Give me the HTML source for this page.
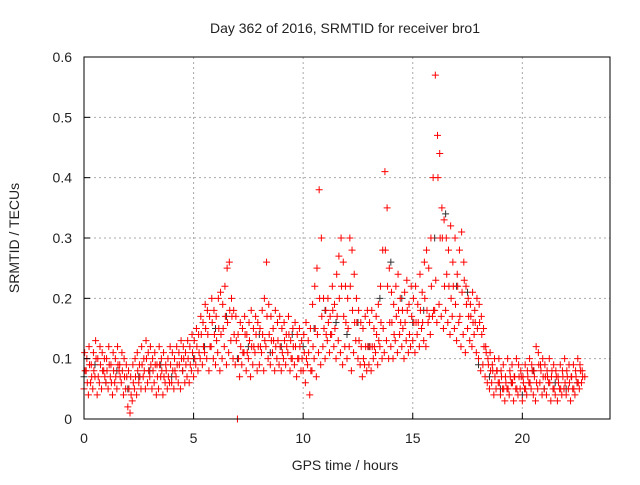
<!DOCTYPE html>
<html><head><meta charset="utf-8"><style>
body{margin:0;background:#fff;}
svg text{font-family:"Liberation Sans",sans-serif;font-size:14px;fill:#222;}
</style></head><body>
<svg id="chart" width="640" height="480" viewBox="0 0 640 480" xmlns="http://www.w3.org/2000/svg">
<rect width="640" height="480" fill="#fff"/>
<g id="grid"></g>
<g id="black"></g>
<g id="red"></g>
<rect x="84" y="57" width="526" height="362" fill="none" stroke="#000" stroke-width="1"/>
<g id="axes"></g>
<text x="345" y="33" text-anchor="middle">Day 362 of 2016, SRMTID for receiver bro1</text>
<text x="345" y="470" text-anchor="middle">GPS time / hours</text>
<text x="0" y="0" transform="translate(19,238) rotate(-90)" text-anchor="middle">SRMTID / TECUs</text>
</svg>
<script>
const xTicks=[0,5,10,15,20];
const yTicks=[0,0.1,0.2,0.3,0.4,0.5,0.6];
const yTickLabels=["0","0.1","0.2","0.3","0.4","0.5","0.6"];
const redStart=0, redStep=0.1;
const redLo=[.05,.08,.04,.06,.05,.07,.04,.06,.05,.08,.06,.05,.07,.04,.06,.05,.08,.06,.04,.05,.02,.01,.03,.05,.04,.06,.05,.07,.05,.06,.07,.05,.06,.04,.05,.07,.04,.06,.05,.06,.06,.05,.07,.06,.05,.08,.06,.07,.06,.08,.07,.09,.08,.10,.09,.11,.10,.08,.12,.10,.09,.11,.08,.10,.12,.09,.11,.13,.10,.09,.00,.07,.09,.11,.08,.10,.07,.09,.11,.08,.09,.11,.08,.12,.10,.09,.11,.08,.10,.09,.08,.10,.09,.11,.08,.10,.09,.07,.10,.08,.08,.06,.09,.04,.08,.10,.07,.11,.09,.12,.10,.13,.11,.14,.12,.10,.13,.11,.09,.12,.10,.12,.08,.11,.13,.10,.09,.07,.09,.08,.09,.08,.10,.11,.09,.12,.10,.11,.13,.10,.12,.10,.13,.11,.14,.12,.10,.13,.11,.12,.13,.11,.14,.12,.15,.13,.12,.16,.14,.17,.18,.16,.19,.17,.15,.18,.16,.14,.17,.15,.13,.16,.12,.14,.11,.15,.13,.12,.14,.11,.10,.08,.09,.07,.06,.05,.06,.04,.05,.06,.04,.05,.03,.05,.04,.06,.03,.05,.04,.05,.03,.05,.04,.06,.05,.04,.03,.05,.06,.04,.05,.04,.06,.03,.05,.04,.03,.05,.04,.05,.04,.05,.03,.05,.04,.06,.05,.06];
const redMid=[.08,.06,.09,.07,.08,.10,.07,.09,.08,.07,.08,.09,.06,.08,.07,.09,.07,.08,.07,.07,.05,.04,.06,.07,.08,.07,.09,.08,.10,.08,.09,.08,.09,.07,.09,.08,.07,.08,.07,.09,.08,.08,.09,.09,.10,.10,.09,.10,.09,.11,.10,.12,.11,.14,.12,.15,.14,.12,.16,.14,.13,.15,.14,.15,.17,.16,.18,.17,.14,.13,.10,.12,.11,.14,.11,.13,.12,.12,.14,.12,.12,.14,.13,.17,.14,.13,.13,.12,.13,.12,.11,.13,.12,.14,.10,.12,.12,.10,.12,.10,.11,.10,.11,.08,.12,.15,.14,.20,.17,.15,.14,.16,.14,.18,.15,.17,.20,.22,.17,.16,.15,.22,.18,.16,.16,.13,.12,.10,.12,.12,.12,.12,.12,.14,.13,.16,.15,.28,.22,.16,.16,.14,.17,.18,.16,.15,.16,.18,.14,.17,.16,.16,.16,.18,.16,.20,.18,.17,.22,.18,.23,.40,.30,.30,.22,.24,.22,.20,.22,.19,.22,.17,.21,.23,.19,.17,.17,.16,.16,.15,.16,.14,.12,.11,.09,.08,.08,.07,.08,.06,.07,.05,.06,.05,.07,.06,.07,.05,.07,.07,.06,.05,.07,.06,.08,.07,.06,.09,.08,.07,.07,.07,.06,.08,.05,.07,.06,.05,.07,.06,.07,.06,.07,.05,.07,.06,.08,.07,.07];
const redHi=[.11,.10,.12,.09,.11,.13,.10,.12,.11,.10,.10,.12,.09,.11,.10,.12,.09,.11,.10,.09,.08,.07,.09,.10,.11,.09,.12,.10,.13,.11,.12,.10,.11,.09,.12,.10,.11,.09,.10,.12,.11,.10,.12,.11,.13,.12,.11,.13,.12,.14,.13,.15,.14,.17,.16,.19,.18,.17,.20,.18,.17,.20,.21,.19,.22,.25,.26,.20,.18,.17,.14,.16,.15,.17,.14,.16,.18,.15,.17,.16,.15,.18,.20,.26,.19,.17,.15,.18,.16,.17,.15,.16,.14,.17,.13,.15,.16,.14,.15,.13,.14,.16,.13,.15,.19,.22,.25,.38,.30,.20,.18,.20,.17,.22,.19,.24,.27,.30,.26,.22,.20,.30,.28,.24,.20,.18,.16,.15,.17,.18,.16,.18,.15,.17,.19,.22,.28,.41,.35,.25,.21,.19,.22,.24,.20,.18,.21,.23,.19,.22,.20,.22,.19,.24,.21,.26,.28,.25,.30,.40,.57,.47,.44,.35,.33,.30,.28,.32,.26,.30,.24,.28,.31,.26,.22,.20,.19,.21,.18,.20,.19,.17,.15,.12,.10,.11,.09,.10,.08,.10,.08,.09,.07,.10,.08,.09,.07,.10,.09,.08,.07,.09,.08,.10,.09,.08,.12,.11,.09,.10,.09,.08,.10,.07,.09,.08,.07,.09,.08,.10,.08,.09,.07,.09,.08,.10,.09,.08];
const blackStart=0, blackStep=0.5;
const blackVals=[.07,.09,.06,.08,.05,.07,.08,.09,.07,.08,.10,.12,.15,.17,.10,.12,.14,.11,.12,.14,.12,.15,.18,.16,.14,.16,.12,.20,.26,.20,.16,.18,.30,.34,.22,.21,.09,.07,.05,.06,.04,.08,.05,.06,.05,.06];

const L=84,R=610,T=57,B=419,xMax=24,yMax=0.6;
const X=v=>L+(v/xMax)*(R-L);
const Y=v=>B-(v/yMax)*(B-T);
const NS="http://www.w3.org/2000/svg";
function mk(tag,parent){const e=document.createElementNS(NS,tag);parent.appendChild(e);return e;}
const grid=document.getElementById('grid'),axes=document.getElementById('axes');
xTicks.forEach(t=>{
  const x=X(t);
  if(t>0){const g=mk('line',grid);
  
  
  g.setAttribute('x1',x);g.setAttribute('x2',x);g.setAttribute('y1',T);g.setAttribute('y2',B);g.setAttribute('stroke','#aaa');g.setAttribute('stroke-dasharray','2,3');}
  const k=mk('line',axes);
  
  
  k.setAttribute('x1',x);k.setAttribute('x2',x);k.setAttribute('y1',B);k.setAttribute('y2',B-6);k.setAttribute('stroke','#000');
  const tx=mk('text',axes);
  
  
  tx.setAttribute('x',x);tx.setAttribute('y',B+24);tx.setAttribute('text-anchor','middle');tx.textContent=String(t);
});
yTicks.forEach((t,i)=>{
  const y=Y(t);
  if(t>0&&t<yMax){const g=mk('line',grid);
  
  
  g.setAttribute('x1',L);g.setAttribute('x2',R);g.setAttribute('y1',y);g.setAttribute('y2',y);g.setAttribute('stroke','#aaa');g.setAttribute('stroke-dasharray','2,3');}
  const k=mk('line',axes);
  
  
  k.setAttribute('x1',L);k.setAttribute('x2',L+6);k.setAttribute('y1',y);k.setAttribute('y2',y);k.setAttribute('stroke','#000');
  const tx=mk('text',axes);
  
  
  tx.setAttribute('x',L-12);tx.setAttribute('y',y+5);tx.setAttribute('text-anchor','end');tx.textContent=yTickLabels[i];
});
function plus(parent,t,v,color,name){
  const x=X(t),y=Y(v);
  const p=mk('path',parent);
  
  
  p.setAttribute('d',`M${x-3.5},${y}H${x+3.5}M${x},${y-3.5}V${y+3.5}`);
  p.setAttribute('stroke',color);p.setAttribute('stroke-width','1');
}
const bg=document.getElementById('black');
blackVals.forEach((v,i)=>plus(bg,blackStart+i*blackStep,v,'#333','black-point'));
const rg=document.getElementById('red');
redLo.forEach((v,i)=>plus(rg,redStart+i*redStep,v,'#f00','red-point'));
redMid.forEach((v,i)=>plus(rg,redStart+i*redStep+0.05,v,'#f00','red-point'));
redHi.forEach((v,i)=>plus(rg,redStart+i*redStep+0.03,v,'#f00','red-point'));
</script>
</body></html>
